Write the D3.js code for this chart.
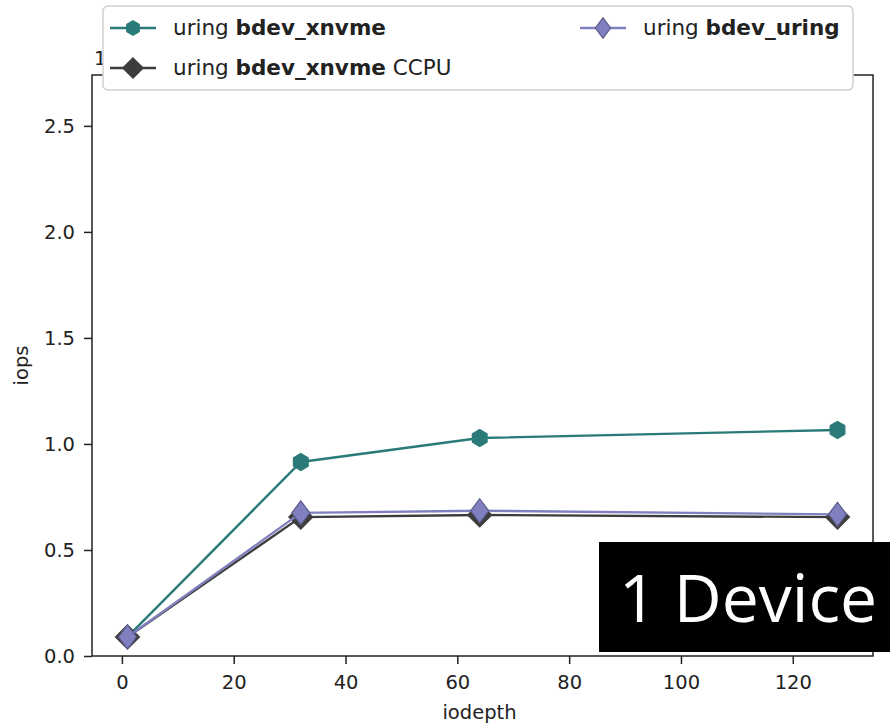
<!DOCTYPE html>
<html>
<head>
<meta charset="utf-8">
<script src="https://cdn.jsdelivr.net/npm/d3@7"></script>
<style>
  body { margin: 0; background: #fff; }
  svg { display: block; font-family: "DejaVu Sans", sans-serif; }
</style>
</head>
<body>
<svg id="chart" width="890" height="724"></svg>
<script>
// iodepth values on the x axis
const iodepths = [1, 32, 64, 128];
// iops in millions (1e6)
const xnvmeIops = [0.09, 0.915, 1.028, 1.066];
const xnvmeCcpuIops = [0.09, 0.655, 0.665, 0.655];
const uringIops = [0.09, 0.675, 0.685, 0.668];
const xTicks = [0, 20, 40, 60, 80, 100, 120];
const yTicks = [0.0, 0.5, 1.0, 1.5, 2.0, 2.5];

const series = [
  { name: "bdev_xnvme", suffix: "", values: xnvmeIops, color: "#2a7b78", marker: "hex" },
  { name: "bdev_xnvme", suffix: " CCPU", values: xnvmeCcpuIops, color: "#3d3d3d", marker: "diamond" },
  { name: "bdev_uring", suffix: "", values: uringIops, color: "#8080c0", marker: "thin" }
];

const svg = d3.select("#chart");
const plotLeft = 92, plotRight = 873, plotTop = 75, plotBottom = 656;

const x = d3.scaleLinear().domain([-5.35, 134.35]).range([plotLeft, plotRight]);
const y = d3.scaleLinear().domain([0, 2.74]).range([plotBottom, plotTop]);

function markerPath(kind, k = 1) {
  if (kind === "hex") {
    const r = 8.5 * k;
    return d3.range(6).map(i => {
      const a = -Math.PI / 2 + i * Math.PI / 3;
      return [r * Math.cos(a), r * Math.sin(a)];
    }).map((p, i) => (i ? "L" : "M") + p[0] + "," + p[1]).join("") + "Z";
  }
  if (kind === "diamond") return `M0,${-12 * k}L${12 * k},0L0,${12 * k}L${-12 * k},0Z`;
  return `M0,${-12 * k}L${9 * k},0L0,${12 * k}L${-9 * k},0Z`;
}
function markerStroke(s) {
  return s.marker === "thin" ? "#5c5c8c" : s.color;
}

// axes
const xAxis = svg.append("g").attr("transform", `translate(0,${plotBottom})`)
  .call(d3.axisBottom(x).tickValues(xTicks).tickSize(8).tickPadding(6).tickFormat(d3.format("d")));
const yAxis = svg.append("g").attr("transform", `translate(${plotLeft},0)`)
  .call(d3.axisLeft(y).tickValues(yTicks).tickSize(8).tickPadding(9).tickFormat(d3.format(".1f")));
[xAxis, yAxis].forEach(a => {
  a.select(".domain").remove();
  a.selectAll(".tick line").attr("stroke", "#222").attr("stroke-width", 1.5);
  a.selectAll(".tick text").attr("fill", "#222").style("font-size", "19.5px").style("font-family", "DejaVu Sans");
});
xAxis.selectAll(".tick text").attr("dy", "0.95em");

svg.append("rect")
  .attr("x", plotLeft).attr("y", plotTop).attr("width", plotRight - plotLeft).attr("height", plotBottom - plotTop)
  .attr("fill", "none").attr("stroke", "#222").attr("stroke-width", 1.5);

// axis labels
svg.append("text").attr("x", (plotLeft + plotRight) / 2 - 3).attr("y", 719)
  .attr("text-anchor", "middle").attr("fill", "#222").style("font-size", "19.5px").text("iodepth");
svg.append("text").attr("transform", `translate(28,${(plotTop + plotBottom) / 2}) rotate(-90)`)
  .attr("text-anchor", "middle").attr("fill", "#222").style("font-size", "19.5px").text("iops");
svg.append("text").attr("x", plotLeft + 2).attr("y", 65).attr("fill", "#222")
  .style("font-size", "19.5px").text("1e6");

// lines and markers
const line = d3.line().x((d, i) => x(iodepths[i])).y(d => y(d));
series.forEach(s => {
  const g = svg.append("g");
  g.append("path").datum(s.values).attr("d", line)
    .attr("fill", "none").attr("stroke", s.color).attr("stroke-width", 2.4);
  g.selectAll("path.m").data(s.values).join("path").attr("class", "m")
    .attr("transform", (d, i) => `translate(${x(iodepths[i])},${y(d)})`)
    .attr("d", markerPath(s.marker))
    .attr("fill", s.color).attr("stroke", markerStroke(s)).attr("stroke-width", 1.2);
});

// legend
const legend = svg.append("g");
legend.append("rect").attr("x", 103).attr("y", 6).attr("width", 750).attr("height", 84)
  .attr("rx", 5).attr("fill", "#fff")
  .attr("stroke", "#d0d0d0").attr("stroke-width", 1.5);
const slots = [[110, 28], [110, 68], [580, 28]];
series.forEach((s, i) => {
  const [lx, ly] = slots[i];
  const g = legend.append("g").attr("transform", `translate(${lx},${ly})`);
  g.append("line").attr("x1", 0).attr("x2", 46).attr("stroke", s.color).attr("stroke-width", 2.4);
  g.append("path").attr("transform", "translate(23,0)").attr("d", markerPath(s.marker, 0.85))
    .attr("fill", s.color).attr("stroke", markerStroke(s)).attr("stroke-width", 1.2);
  const t = g.append("text").attr("x", 63).attr("y", 7).attr("fill", "#222").style("font-size", "21.5px");
  t.append("tspan").text("uring ");
  t.append("tspan").style("font-weight", "bold").text(s.name);
  if (s.suffix) t.append("tspan").text(s.suffix);
});

// annotation box
const note = svg.append("g");
note.append("rect").attr("x", 599).attr("y", 542).attr("width", 291).attr("height", 110).attr("fill", "#000");
note.append("text").attr("x", 748).attr("y", 622).attr("text-anchor", "middle").attr("fill", "#fff")
  .style("font-family", "Open Sans").style("font-size", "66px").text("1 Device");
</script>
</body>
</html>
